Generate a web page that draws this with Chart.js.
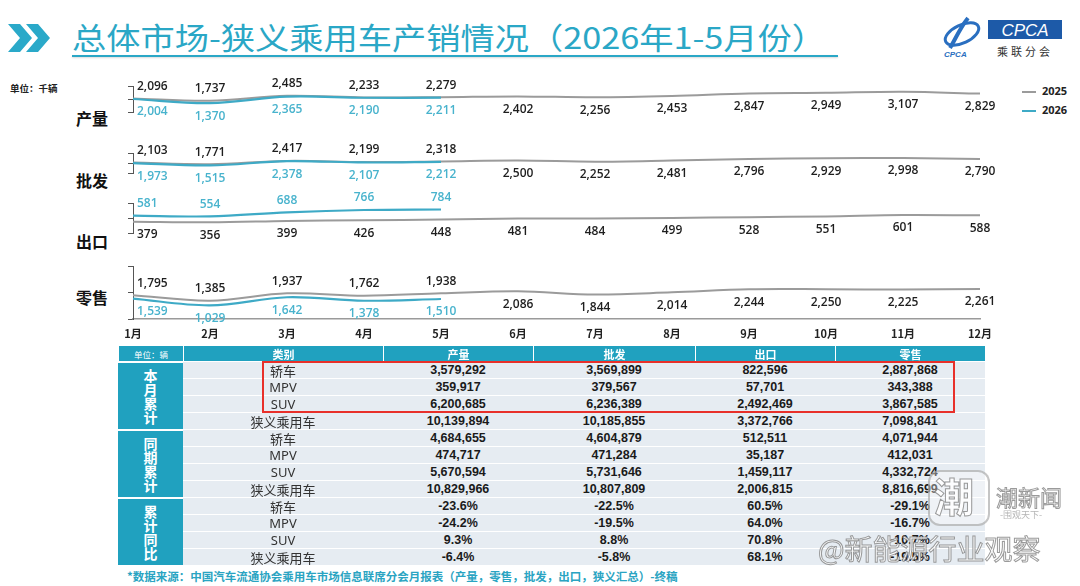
<!DOCTYPE html>
<html>
<head>
<meta charset="utf-8">
<script src="https://cdn.jsdelivr.net/npm/chart.js@4.4.1/dist/chart.umd.min.js"></script>
<style>
  html, body { margin: 0; padding: 0; background: #fff; }
  body { width: 1080px; height: 586px; position: relative; overflow: hidden;
         font-family: "Noto Sans CJK SC", "Noto Sans", sans-serif; }
  .abs { position: absolute; }
  #title { left: 72px; top: 16px; font-size: 30px; line-height: 40px; color: #2aa7c6;
           white-space: nowrap; transform-origin: left center; }
  #titleLine { left: 72px; top: 55px; width: 766px; height: 2px; background: #2aa7c6;
               box-shadow: 0 1px 2px rgba(0,0,0,0.15); }
  #unit { left: 10px; top: 81px; font-size: 9.5px; font-weight: bold; color: #222; }
  .panelName { left: 76px; font-size: 16px; font-weight: bold; color: #111; line-height: 20px; }
  .legend { left: 1022px; font: bold 11px "Open Sans", sans-serif; color: #222; line-height: 14px; }
  .legend i { display: inline-block; width: 14px; height: 2px; vertical-align: middle; margin-right: 6px; }
  canvas { position: absolute; }
  .cell { position: absolute; box-sizing: border-box; display: flex; align-items: center;
          justify-content: center; white-space: nowrap; }
  .head { background: #20a1bf; color: #fff; font-size: 11px; font-weight: bold; border-left: 1px solid #fff; }
  .sect { background: #20a1bf; color: #fff; font-size: 14px; font-weight: bold; line-height: 14px;
          text-align: center; border-top: 2px solid #fff; }
  .body { background: #e6ecf2; border-top: 1px solid #fff; color: #1a1a1a; }
  .cat { font-family: "Noto Sans", "Noto Sans CJK SC", sans-serif; font-size: 13px; color: #333; }
  .num { font: bold 12.5px "Liberation Sans", Arial, sans-serif; }
  #redBox { left: 262px; top: 361px; width: 693px; height: 52px; border: 2px solid #e8302a; box-sizing: border-box; }
  #source { left: 127px; top: 568px; font-size: 11.5px; font-weight: bold; color: #2aa4c2; white-space: nowrap; }
  .wm { color: rgba(255,255,255,0.85); -webkit-text-stroke: 1px rgba(120,120,120,0.75); white-space: nowrap; }
</style>
</head>
<body>

<svg class="abs" style="left:6px;top:24px" width="50" height="28">
  <polygon points="2,0 14,0 26,14 14,28 2,28 14,14" fill="#2aa9c9"/>
  <polygon points="20,0 32,0 44,14 32,28 20,28 32,14" fill="#2aa9c9"/>
</svg>
<div id="title" class="abs">总体市场-狭义乘用车产销情况（2026年1-5月份）</div>
<div id="titleLine" class="abs"></div>

<svg class="abs" style="left:938px;top:14px" width="130" height="46">
  <ellipse cx="24" cy="20" rx="18" ry="9" fill="none" stroke="#2a6fc0" stroke-width="3" transform="rotate(-25 24 20)"/>
  <path d="M30 4 C22 14, 18 24, 12 34" stroke="#2a6fc0" stroke-width="4" fill="none"/>
  <text x="6" y="43" font-family="Liberation Sans" font-size="8" font-style="italic" font-weight="bold" fill="#2a6fc0">CPCA</text>
  <rect x="50" y="6" width="74" height="19" fill="#1d5aa8"/>
  <text x="87" y="22" text-anchor="middle" font-family="Liberation Sans" font-size="17" font-style="italic" fill="#fff">CPCA</text>
  <text x="87" y="42" text-anchor="middle" font-family="Noto Sans CJK SC" font-size="11" fill="#333" letter-spacing="3">乘联分会</text>
</svg>

<div id="unit" class="abs">单位：千辆</div>
<div class="abs legend" style="top:84px"><i style="background:#9b9b9b"></i>2025</div>
<div class="abs legend" style="top:103px"><i style="background:#3eaac6"></i>2026</div>

<div class="abs panelName" style="top:108px">产量</div>
<div class="abs panelName" style="top:170px">批发</div>
<div class="abs panelName" style="top:231px">出口</div>
<div class="abs panelName" style="top:287px">零售</div>

<canvas id="cProd"></canvas>
<canvas id="cWhole"></canvas>
<canvas id="cExport"></canvas>
<canvas id="cRetail"></canvas>

<div id="table"></div>
<div id="redBox" class="abs"></div>
<div id="source" class="abs">*数据来源：中国汽车流通协会乘用车市场信息联席分会月报表（产量，零售，批发，出口，狭义汇总）-终稿</div>

<div class="abs" style="left:928px;top:470px;width:58px;height:52px;border:2px solid rgba(150,150,150,0.55);border-radius:12px;background:rgba(255,255,255,0.35)"></div>
<div class="abs wm" style="left:934px;top:466px;font-size:40px;font-weight:bold">潮</div>
<div class="abs wm" style="left:996px;top:480px;font-size:22px">潮新闻</div>
<div class="abs wm" style="left:1000px;top:508px;font-size:9px;-webkit-text-stroke:0;color:rgba(150,150,150,0.7)">-围观天下-</div>
<div class="abs wm" style="left:818px;top:528px;font-size:28px">@新能源行业观察</div>

<script>
// 月份
const months = ['1月', '2月', '3月', '4月', '5月', '6月', '7月', '8月', '9月', '10月', '11月', '12月'];

// 单位：千辆
const prod2025 = [2096, 1737, 2485, 2233, 2279, 2402, 2256, 2453, 2847, 2949, 3107, 2829];
const prod2026 = [2004, 1370, 2365, 2190, 2211];
const whole2025 = [2103, 1771, 2417, 2199, 2318, 2500, 2252, 2481, 2796, 2929, 2998, 2790];
const whole2026 = [1973, 1515, 2378, 2107, 2212];
const export2025 = [379, 356, 399, 426, 448, 481, 484, 499, 528, 551, 601, 588];
const export2026 = [581, 554, 688, 766, 784];
const retail2025 = [1795, 1385, 1937, 1762, 1938, 2086, 1844, 2014, 2244, 2250, 2225, 2261];
const retail2026 = [1539, 1029, 1642, 1378, 1510];

// 表格（单位：辆）
const sections = ['本月累计', '同期累计', '累计同比'];
const categories = ['轿车', 'MPV', 'SUV', '狭义乘用车'];
const columns = ['产量', '批发', '出口', '零售'];
const cum2026 = [
    [3579292, 3569899, 822596, 2887868],
    [359917, 379567, 57701, 343388],
    [6200685, 6236389, 2492469, 3867585],
    [10139894, 10185855, 3372766, 7098841]
];
const cum2025 = [
    [4684655, 4604879, 512511, 4071944],
    [474717, 471284, 35187, 412031],
    [5670594, 5731646, 1459117, 4332724],
    [10829966, 10807809, 2006815, 8816699]
];
const cumYoy = [
    [-23.6, -22.5, 60.5, -29.1],
    [-24.2, -19.5, 64.0, -16.7],
    [9.3, 8.8, 70.8, -10.7],
    [-6.4, -5.8, 68.1, -19.5]
];

// 数值标签：2025 高于 2026 时放上方，否则下方
const valueLabels = {
    id: 'valueLabels',
    afterDatasetsDraw(chart) {
        const ctx = chart.ctx;
        const d25 = chart.data.datasets[0].data;
        const d26 = chart.data.datasets[1].data;
        ctx.save();
        ctx.font = '600 12px "Open Sans", sans-serif';
        ctx.textBaseline = 'middle';
        chart.data.datasets.forEach((ds, i) => {
            const meta = chart.getDatasetMeta(i);
            meta.data.forEach((pt, j) => {
                const v = ds.data[j];
                if (v == null) return;
                const above25 = d26[j] != null && d25[j] >= d26[j];
                const above = i === 0 ? above25 : !above25;
                ctx.fillStyle = i === 0 ? '#1e1e1e' : '#48b3cd';
                ctx.textAlign = j === 0 ? 'left' : 'center';
                const x = j === 0 ? pt.x + 4 : pt.x;
                ctx.fillText(v.toLocaleString('en-US'), x, pt.y + (above ? -12 : 13));
            });
        });
        ctx.restore();
    }
};

const panels = [
    { id: 'cProd', top: 86, bottom: 138, d25: prod2025, d26: prod2026, max: 4000 },
    { id: 'cWhole', top: 153, bottom: 199, d25: whole2025, d26: whole2026, max: 4000 },
    { id: 'cExport', top: 203, bottom: 259, d25: export2025, d26: export2026, max: 1000 },
    { id: 'cRetail', top: 266, bottom: 319, d25: retail2025, d26: retail2026, max: 4000, showX: true }
];

const canvasLeft = 113;
const areaRight = 980;
const padRight = 26;
const padV = 16;
const xAxisH = 26;

panels.forEach(p => {
    const canvas = document.getElementById(p.id);
    const h = (p.bottom - p.top) + padV + (p.showX ? xAxisH : padV);
    canvas.width = areaRight + padRight - canvasLeft;
    canvas.height = h;
    canvas.style.left = canvasLeft + 'px';
    canvas.style.top = (p.top - padV) + 'px';

    new Chart(canvas.getContext('2d'), {
        type: 'line',
        data: {
            labels: months,
            datasets: [
                {
                    label: '2025',
                    data: p.d25,
                    borderColor: '#9b9b9b',
                    borderWidth: 2,
                    tension: 0.35,
                    pointRadius: 0,
                    order: 2
                },
                {
                    label: '2026',
                    data: p.d26,
                    borderColor: '#3eaac6',
                    borderWidth: 2.2,
                    tension: 0.35,
                    pointRadius: 0,
                    order: 1
                }
            ]
        },
        options: {
            responsive: false,
            animation: false,
            layout: { padding: { top: padV, right: padRight, bottom: p.showX ? 0 : padV, left: 0 } },
            scales: {
                x: {
                    display: !!p.showX,
                    grid: { display: false, drawTicks: false },
                    border: { display: true, color: '#9a9a9a', width: 1.5 },
                    ticks: {
                        padding: 8,
                        color: '#222',
                        autoSkip: false,
                        maxRotation: 0,
                        font: { family: 'Noto Sans CJK SC', size: 11, weight: 'bold' }
                    },
                    afterFit(s) { s.height = xAxisH; }
                },
                y: {
                    min: 0,
                    max: p.max,
                    ticks: { display: false, stepSize: p.max / 2 },
                    grid: { drawOnChartArea: false, drawTicks: true, tickLength: 5, color: '#555' },
                    border: { display: true, color: '#555', width: 1 },
                    afterFit(s) { s.width = 20; }
                }
            },
            plugins: {
                legend: { display: false },
                tooltip: { enabled: false }
            }
        },
        plugins: [valueLabels]
    });
});

// 表格
const colX = [118, 183, 383, 533, 695, 835, 985];
const headTop = 346;
const headH = 15;
const rowH = 17;
const table = document.getElementById('table');

function addCell(cls, x0, x1, y, h, html) {
    const el = document.createElement('div');
    el.className = 'cell ' + cls;
    el.style.left = x0 + 'px';
    el.style.width = (x1 - x0) + 'px';
    el.style.top = y + 'px';
    el.style.height = h + 'px';
    el.innerHTML = html;
    table.appendChild(el);
}

addCell('head', colX[0], colX[1], headTop, headH, '<span style="font-size:8.5px;font-weight:normal">单位：辆</span>');
addCell('head', colX[1], colX[2], headTop, headH, '类别');
columns.forEach((c, k) => addCell('head', colX[k + 2], colX[k + 3], headTop, headH, c));

const blocks = [cum2026, cum2025, cumYoy];
blocks.forEach((block, s) => {
    const secTop = headTop + headH + s * categories.length * rowH;
    addCell('sect', colX[0], colX[1], secTop, categories.length * rowH, sections[s].split('').join('<br>'));
    categories.forEach((cat, r) => {
        const y = secTop + r * rowH;
        addCell('body cat', colX[1], colX[2], y, rowH, cat);
        block[r].forEach((v, k) => {
            const txt = s === 2 ? v.toFixed(1) + '%' : v.toLocaleString('en-US');
            addCell('body num', colX[k + 2], colX[k + 3], y, rowH, txt);
        });
    });
});

// 标题宽度对齐
const title = document.getElementById('title');
const w = title.getBoundingClientRect().width;
title.style.transform = 'scaleX(' + (754 / w) + ')';
</script>
</body>
</html>
